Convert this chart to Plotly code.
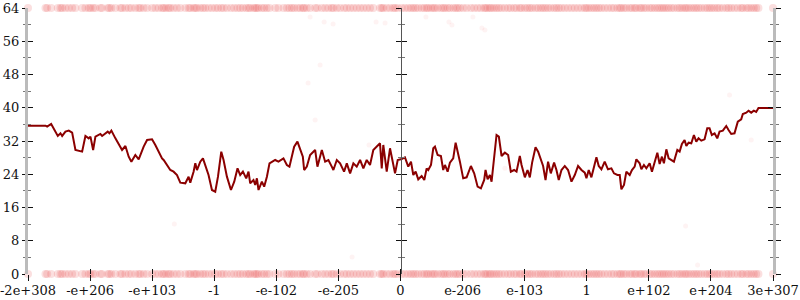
import plotly.graph_objects as go

# x positions are in tick units of the ordered-float axis (-6 .. 6)
tick_pos = [-6, -5, -4, -3, -2, -1, 0, 1, 2, 3, 4, 5, 6]
tick_text = ["-2e+308", "-e+206", "-e+103", "-1", "-e-102", "-e-205", "0",
             "e-206", "e-103", "1", "e+102", "e+204", "3e+307"]

line_x = [
    -6.0, -5.718, -5.691, -5.627, -5.520, -5.477, -5.450, -5.397, -5.343, -5.289,
    -5.236, -5.128, -5.075, -5.022, -4.994, -4.951, -4.914, -4.834, -4.806, -4.716,
    -4.689, -4.657, -4.592, -4.512, -4.485, -4.431, -4.378, -4.335, -4.271, -4.217,
    -4.190, -4.137, -4.082, -4.002, -3.949, -3.896, -3.841, -3.815, -3.777, -3.735,
    -3.708, -3.655, -3.600, -3.547, -3.466, -3.413, -3.386, -3.333, -3.305, -3.278,
    -3.225, -3.182, -3.145, -3.092, -3.037, -2.984, -2.940, -2.887, -2.850, -2.796,
    -2.731, -2.678, -2.625, -2.582, -2.538, -2.485, -2.448, -2.421, -2.368, -2.340,
    -2.313, -2.287, -2.233, -2.196, -2.152, -2.110, -2.019, -1.966, -1.885, -1.830,
    -1.789, -1.750, -1.713, -1.660, -1.617, -1.573, -1.552, -1.509, -1.456, -1.375,
    -1.338, -1.267, -1.214, -1.161, -1.107, -1.081, -1.026, -0.973, -0.909, -0.865,
    -0.812, -0.759, -0.705, -0.651, -0.598, -0.544, -0.491, -0.438, -0.330, -0.302,
    -0.277, -0.222, -0.169, -0.116, -0.088, -0.045, 0.019, 0.072, 0.125, 0.169,
    0.206, 0.244, 0.286, 0.341, 0.383, 0.421, 0.447, 0.491, 0.528, 0.555,
    0.598, 0.651, 0.688, 0.716, 0.759, 0.796, 0.849, 0.888, 0.920, 0.957,
    1.010, 1.065, 1.134, 1.187, 1.242, 1.295, 1.348, 1.370, 1.403, 1.440,
    1.467, 1.509, 1.547, 1.584, 1.628, 1.681, 1.734, 1.777, 1.830, 1.869,
    1.922, 1.950, 2.003, 2.046, 2.083, 2.120, 2.175, 2.217, 2.260, 2.297,
    2.336, 2.377, 2.421, 2.474, 2.512, 2.549, 2.593, 2.646, 2.699, 2.754,
    2.807, 2.860, 2.915, 2.968, 2.995, 3.032, 3.075, 3.117, 3.156, 3.193,
    3.236, 3.289, 3.342, 3.397, 3.439, 3.494, 3.531, 3.558, 3.600, 3.638,
    3.692, 3.728, 3.772, 3.799, 3.852, 3.880, 3.921, 3.960, 4.013, 4.050,
    4.094, 4.137, 4.174, 4.211, 4.243, 4.282, 4.319, 4.362, 4.404, 4.459,
    4.496, 4.533, 4.576, 4.604, 4.641, 4.684, 4.726, 4.764, 4.801, 4.845,
    4.898, 4.941, 4.978, 5.015, 5.059, 5.102, 5.139, 5.192, 5.247, 5.284,
    5.327, 5.380, 5.433, 5.488, 5.514, 5.569, 5.606, 5.649, 5.691, 5.729,
    5.766, 6.0,
]
line_y = [
    35.69, 35.69, 35.45, 36.09, 33.21, 33.85, 33.21, 34.25, 34.49, 34.01,
    29.84, 29.44, 33.21, 32.64, 33.05, 29.84, 33.05, 33.69, 33.21, 34.25,
    33.85, 34.49, 32.64, 30.64, 29.84, 30.80, 28.23, 27.03, 28.63, 27.59,
    28.63, 30.64, 32.24, 32.40, 31.04, 29.44, 27.83, 27.43, 26.63, 25.83,
    25.02, 24.62, 23.82, 21.98, 21.82, 23.42, 21.98, 24.62, 26.63, 25.02,
    27.03, 27.83, 26.23, 23.82, 20.21, 19.81, 23.42, 29.44, 27.43, 23.42,
    20.21, 22.22, 25.42, 23.82, 24.62, 23.02, 24.62, 21.82, 22.62, 21.41,
    23.02, 20.21, 22.22, 21.01, 23.42, 26.63, 27.43, 27.03, 27.83, 26.23,
    25.83, 28.23, 30.64, 31.84, 30.24, 28.23, 25.02, 25.83, 28.63, 29.84,
    25.83, 29.84, 27.03, 27.43, 25.83, 25.02, 27.43, 26.63, 24.62, 26.63,
    24.22, 26.63, 25.83, 27.43, 25.42, 27.43, 26.23, 29.84, 31.44, 25.42,
    31.04, 24.62, 30.24, 26.23, 24.22, 27.43, 27.67, 28.07, 25.83, 27.03,
    23.82, 24.62, 22.78, 23.58, 22.62, 25.42, 25.02, 26.23, 30.24, 30.64,
    28.63, 28.39, 25.02, 26.23, 24.62, 26.79, 27.83, 31.60, 29.03, 27.03,
    23.02, 23.26, 25.99, 24.22, 21.01, 20.61, 22.62, 25.02, 22.78, 23.82,
    22.22, 27.43, 33.45, 33.05, 28.39, 29.19, 28.63, 24.62, 25.02, 24.62,
    28.39, 26.23, 23.26, 25.02, 23.26, 26.79, 30.48, 29.44, 27.43, 25.99,
    22.62, 27.03, 24.22, 26.79, 25.02, 22.62, 25.02, 25.99, 25.02, 22.22,
    23.82, 25.99, 25.02, 24.38, 23.02, 25.02, 23.26, 25.83, 28.07, 25.99,
    25.19, 27.03, 25.19, 25.42, 24.22, 23.82, 23.82, 20.37, 21.41, 24.62,
    23.82, 25.02, 25.83, 27.59, 26.63, 25.19, 26.23, 25.42, 26.63, 24.62,
    27.03, 29.19, 26.47, 28.23, 26.63, 30.00, 27.83, 27.43, 27.03, 29.84,
    29.44, 31.28, 32.24, 30.80, 31.60, 31.44, 33.45, 31.84, 32.64, 32.08,
    32.40, 35.05, 35.05, 33.45, 33.85, 32.64, 34.25, 34.49, 35.61, 34.65,
    33.69, 33.85, 36.65, 37.22, 38.50, 38.82, 39.30, 38.82, 39.30, 38.98,
    39.94, 39.94,
]

# faint stray samples
stray_x = [-1.456, -1.230, -1.086, -0.394, -0.249, 0.410, 0.780, 0.828, 1.166, 1.311,
           1.359, -1.295, -1.488, 5.300, -3.643, -0.780, 4.592, 4.785, -1.375, -0.507,
           5.649, 1.681]
stray_y = [61.84, 60.63, 60.15, 60.63, 60.39, 61.84, 60.63, 59.91, 61.84, 59.19,
           58.71, 50.29, 45.96, 43.07, 12.03, 4.09, 11.55, 2.17, 37.05, 31.04,
           32.24, 25.43]

y_min, y_max = 0, 64

FONT = dict(family="DejaVu Serif", size=13, color="#111")

fig = go.Figure()

# extreme-value bands (top and bottom)
fig.add_trace(go.Scatter(
    x=line_x + line_x, y=[y_max] * len(line_x) + [y_min] * len(line_x),
    mode="markers", cliponaxis=False, hoverinfo="skip", showlegend=False,
    marker=dict(size=8, color="rgba(230,55,55,0.16)", line=dict(width=0)),
))
fig.add_trace(go.Scatter(
    x=stray_x, y=stray_y, mode="markers", cliponaxis=False, hoverinfo="skip",
    showlegend=False,
    marker=dict(size=5, color="rgba(240,90,90,0.07)", line=dict(width=0)),
))
fig.add_trace(go.Scatter(
    x=line_x, y=line_y, mode="lines", hoverinfo="skip", showlegend=False,
    line=dict(color="#8b0000", width=2),
))

# dummy traces to register overlay axes
for ya in ["y2", "y3", "y4", "y5", "y6"]:
    fig.add_trace(go.Scatter(x=[None], y=[None], yaxis=ya, showlegend=False,
                             hoverinfo="skip"))
fig.add_trace(go.Scatter(x=[None], y=[None], xaxis="x2", showlegend=False,
                         hoverinfo="skip"))

yr = [y_min, y_max]
common_y = dict(range=yr, dtick=8, tick0=0, showgrid=False, zeroline=False,
                fixedrange=True, tickcolor="#111", tickwidth=1, automargin=False)
minor_common = dict(dtick=4, tickcolor="#777", tickwidth=1, showgrid=False)

fig.update_layout(
    width=800, height=300,
    margin=dict(l=28, r=27, t=8, b=26, autoexpand=False),
    paper_bgcolor="white", plot_bgcolor="white",
    font=FONT,
    xaxis=dict(range=[-6, 6], tickvals=tick_pos, ticktext=tick_text,
               ticks="outside", ticklen=6, tickcolor="#111", tickwidth=1,
               showgrid=False, zeroline=False, showline=False, tickfont=FONT,
               automargin=False, ticklabeloverflow="allow",
               ticklabelstandoff=-2),
    xaxis2=dict(range=[-6, 6], overlaying="x", anchor="y", side="bottom",
                tickvals=tick_pos, showticklabels=False, ticks="inside",
                ticklen=5, tickcolor="#111", tickwidth=1, showgrid=False,
                zeroline=False, showline=False, automargin=False),
    yaxis=dict(**common_y, ticks="outside", ticklen=3, showline=True,
               linecolor="#bbbbbb", linewidth=3, tickfont=FONT,
               ticklabeloverflow="allow",
               minor=dict(**minor_common, ticks="outside", ticklen=2)),
    yaxis2=dict(**common_y, overlaying="y", anchor="x", side="left",
                ticks="inside", ticklen=5, showticklabels=False, showline=False,
                minor=dict(**minor_common, ticks="inside", ticklen=3)),
    yaxis3=dict(**common_y, overlaying="y", anchor="x", side="right",
                ticks="outside", ticklen=5, showticklabels=False, showline=True,
                linecolor="#bbbbbb", linewidth=3,
                minor=dict(**minor_common, ticks="outside", ticklen=3)),
    yaxis4=dict(**common_y, overlaying="y", anchor="x", side="right",
                ticks="inside", ticklen=5, showticklabels=False, showline=False,
                minor=dict(**minor_common, ticks="inside", ticklen=3)),
    yaxis5=dict(**common_y, overlaying="y", anchor="free", position=0.5,
                side="left", ticks="outside", ticklen=5, showticklabels=False,
                showline=True, linecolor="#555555", linewidth=1,
                minor=dict(**minor_common, ticks="outside", ticklen=3)),
    yaxis6=dict(**common_y, overlaying="y", anchor="free", position=0.5,
                side="left", ticks="inside", ticklen=5, showticklabels=False,
                showline=False,
                minor=dict(**minor_common, ticks="inside", ticklen=3)),
)

fig.write_html("out.html")
